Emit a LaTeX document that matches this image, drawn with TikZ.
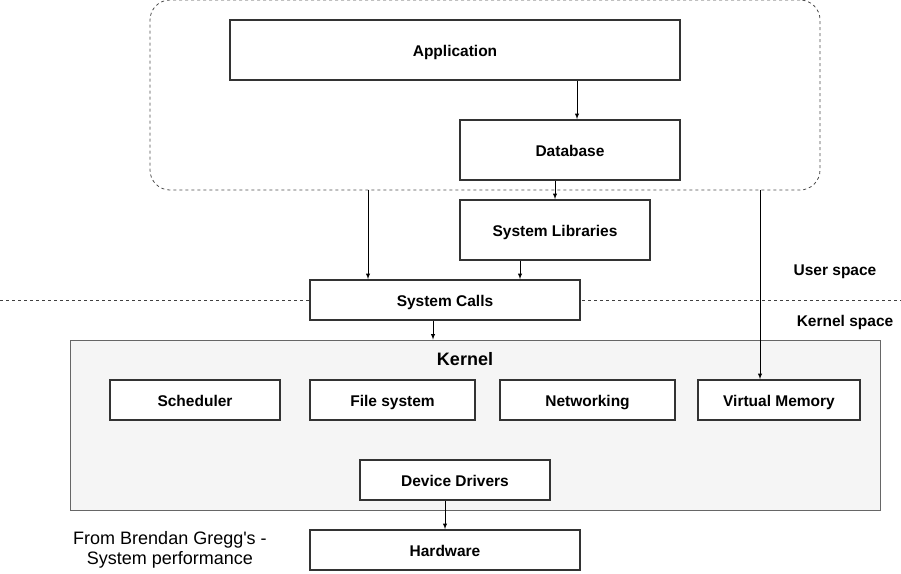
\documentclass[tikz,border=0pt]{standalone}
\usepackage{fontspec}
\setmainfont{Liberation Sans}
\usetikzlibrary{arrows,positioning,calc,arrows.meta}

\begin{document}
\begin{tikzpicture}[
    x=1pt, y=-1pt,
    every node/.style={align=center, font=\fontsize{15.5}{18}\selectfont\bfseries},
    layer/.style={rectangle, draw=black!80, line width=1.8pt, fill=white, text height=15pt, text depth=2pt},
    arr/.style={draw, -latex, line width=0.9pt},
    spaceline/.style={draw=black!75, dashed, line width=0.8pt}
]
\useasboundingbox (0,0) rectangle (901,573);
% user space area
\node[rectangle, rounded corners=20pt, spaceline, draw=black!70, minimum width=670pt, minimum height=190pt] (user) at (485,95) {};
\draw[spaceline] (0,300) -- (901,300);
\node (ulabel) at (835,272) {User space};
\node (klabel) at (845,322) {Kernel space};

\node[layer, minimum width=450pt, minimum height=60pt] (app) at (455,50) {Application};
\node[layer, minimum width=220pt, minimum height=60pt] (db) at (570,150) {Database};
\node[layer, minimum width=190pt, minimum height=60pt] (lib) at (555,230) {System Libraries};
\node[layer, minimum width=270pt, minimum height=40pt] (calls) at (445,300) {System Calls};

% kernel
\node[rectangle, draw=black!60, line width=0.8pt, fill=black!4, minimum width=810pt, minimum height=170pt] (kernel) at (475,425) {};
\node[font=\fontsize{18}{20}\selectfont\bfseries] (ktitle) at (465,359) {Kernel};
\node[layer, minimum width=170pt, minimum height=40pt] (sched) at (195,400) {Scheduler};
\node[layer, minimum width=165pt, minimum height=40pt] (fs) at (392.5,400) {File system};
\node[layer, minimum width=175pt, minimum height=40pt] (net) at (587.5,400) {Networking};
\node[layer, minimum width=162pt, minimum height=40pt] (vm) at (779,400) {Virtual Memory};
\node[layer, minimum width=190pt, minimum height=40pt] (dev) at (455,480) {Device Drivers};

\node[layer, minimum width=270pt, minimum height=40pt] (hw) at (445,550) {Hardware};
\node[font=\fontsize{18}{20}\selectfont] (note) at (170,550) {From Brendan Gregg\textquotesingle s -\\System performance};

% connectors
\coordinate (u1) at (368,190);
\coordinate (u2) at (760,190);
\draw[arr] (app.south -| 577,0) -- (db.north -| 577,0);
\draw[arr] (db.south -| lib.north) -- (lib.north);
\draw[arr] (u1) -- (calls.north -| u1);
\draw[arr] ([xshift=-35pt]lib.south) -- ([xshift=-35pt]lib.south |- calls.north);
\draw[arr] ([xshift=-12pt]calls.south) -- ([xshift=-12pt]calls.south |- kernel.north);
\draw[arr] (u2) -- (vm.north -| u2);
\draw[arr] ([xshift=-10pt]dev.south) -- ([xshift=-10pt]dev.south |- hw.north);
\end{tikzpicture}
\end{document}
